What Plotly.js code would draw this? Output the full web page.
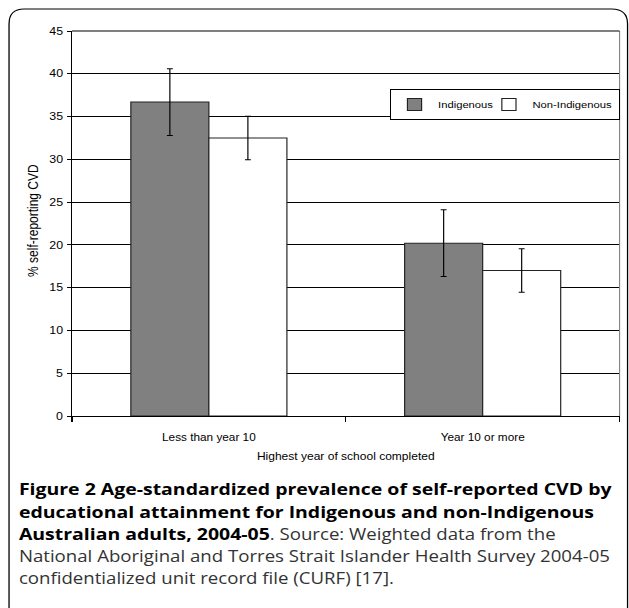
<!DOCTYPE html>
<html>
<head>
<meta charset="utf-8">
<script src="https://cdn.plot.ly/plotly-3.0.1.min.js"></script>
<style>
html,body{margin:0;padding:0;background:#fff;overflow:hidden;}
#chart{width:533px;height:608px;transform:scaleX(1.18011);transform-origin:0 0;}
</style>
</head>
<body>
<div id="chart"></div>
<script>
// ---- data ----
const categories = ["Less than year 10", "Year 10 or more"];
const indigenous = [36.7, 20.2];
const indigenousErr = [3.9, 3.9];
const nonIndigenous = [32.5, 17.0];
const nonIndigenousErr = [2.55, 2.55];
const seriesNames = ["Indigenous", "Non-Indigenous"];
const yTitle = "% self-reporting CVD";
const xTitle = "Highest year of school completed";
const captionLines = [
  "<b>Figure 2 Age-standardized prevalence of self-reported CVD by</b>",
  "<b>educational attainment for Indigenous and non-Indigenous</b>",
  "<b>Australian adults, 2004-05</b><span style=\"font-size:15.8px;color:#333\">. Source: Weighted data from the</span>",
  "<span style=\"font-size:15.8px;color:#333\">National Aboriginal and Torres Strait Islander Health Survey 2004-05</span>",
  "<span style=\"font-size:15.8px;color:#333\">confidentialized unit record file (CURF) [17].</span>"
];

// ---- geometry (page is drawn narrower and stretched horizontally) ----
const S = 629 / 533;
const W = 533, H = 608;
const M = {l: 72 / S, r: 533 - 620 / S, t: 31, b: 192};
const PW = W - M.l - M.r, PH = H - M.t - M.b;
// reference pixel -> paper coords
const px = x => (x / S - M.l) / PW;
const py = y => (H - M.b - y) / PH;

const arial = "Arial, 'Liberation Sans', sans-serif";
const tickFont = {family: arial, size: 10.5, color: "#000"};
const xTickFont = {family: arial, size: 10, color: "#000"};

const traces = [
  {
    type: "bar", name: seriesNames[0], x: categories, y: indigenous,
    marker: {color: "#808080", line: {color: "#222", width: 1}},
    error_y: {type: "data", array: indigenousErr, visible: true, color: "#000", thickness: 1, width: 2.5},
    legendwidth: 35
  },
  {
    type: "bar", name: seriesNames[1], x: categories, y: nonIndigenous,
    marker: {color: "#ffffff", line: {color: "#222", width: 1}},
    error_y: {type: "data", array: nonIndigenousErr, visible: true, color: "#000", thickness: 1, width: 2.5}
  }
];

const frame = `M ${px(9)},${py(H+5)} L ${px(9)},${py(24)} Q ${px(9)},${py(9)} ${px(24)},${py(9)} L ${px(612)},${py(9)} Q ${px(628)},${py(9)} ${px(628)},${py(24)} L ${px(628)},${py(H+5)}`;

const captionY = [488, 511, 533, 556, 578];
const annotations = captionLines.map((t, i) => ({
  text: t, xref: "paper", yref: "paper", x: px(16), y: py(captionY[i]),
  xanchor: "left", yanchor: "middle", showarrow: false, align: "left",
  font: {family: "'Open Sans', sans-serif", size: 16.5, color: "#000"}
}));
annotations.push({
  text: yTitle, xref: "paper", yref: "paper", x: px(33), y: py(220),
  xanchor: "center", yanchor: "middle", showarrow: false, textangle: -90,
  font: {family: arial, size: 12, color: "#000"}
});

const layout = {
  width: W, height: H,
  margin: M,
  paper_bgcolor: "#fff", plot_bgcolor: "#fff",
  barmode: "group", bargap: 0.43, bargroupgap: 0,
  showlegend: true,
  legend: {
    orientation: "h", x: px(390), y: py(89), xanchor: "left", yanchor: "top",
    bordercolor: "#000", borderwidth: 1, bgcolor: "#fff",
    font: {family: arial, size: 9.5, color: "#000"},
    itemwidth: 30, tracegroupgap: 0
  },
  xaxis: {
    type: "category", showline: true, linecolor: "#000", linewidth: 1,
    ticks: "outside", tickson: "boundaries", ticklen: 5, tickcolor: "#000",
    showgrid: false, tickfont: xTickFont, ticklabelstandoff: 12,
    title: {text: xTitle, font: {family: arial, size: 10.2, color: "#000"}, standoff: 10}
  },
  yaxis: {
    range: [0, 45], dtick: 5, tick0: 0,
    showline: true, linecolor: "#000", linewidth: 1,
    ticks: "outside", ticklen: 3.5, tickcolor: "#000",
    showgrid: true, gridcolor: "#000", gridwidth: 1, zeroline: false,
    tickfont: tickFont, ticklabelstandoff: 1
  },
  shapes: [
    {type: "line", xref: "paper", yref: "paper", x0: 1, x1: 1, y0: 0, y1: 1, line: {color: "#888", width: 1}},
    {type: "line", xref: "paper", yref: "paper", x0: 0, x1: 1, y0: 1, y1: 1, line: {color: "#000", width: 1}},
    {type: "path", xref: "paper", yref: "paper", path: frame, line: {color: "#000", width: 1.1}}
  ],
  annotations: annotations
};

Plotly.newPlot("chart", traces, layout, {staticPlot: true, displayModeBar: false});
</script>
</body>
</html>
